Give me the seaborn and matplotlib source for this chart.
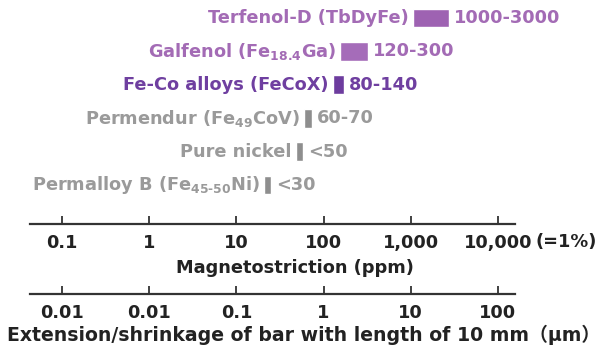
import numpy as np
import matplotlib
matplotlib.use('Agg')
import matplotlib.pyplot as plt
import matplotlib.transforms as mtransforms
from matplotlib.ticker import NullLocator
import seaborn as sns

# materials, top to bottom
materials = [r'Terfenol-D (TbDyFe)',
             r'Galfenol (Fe$_{\mathbf{18.4}}$Ga)',
             r'Fe-Co alloys (FeCoX)',
             r'Permendur (Fe$_{\mathbf{49}}$CoV)',
             r'Pure nickel',
             r'Permalloy B (Fe$_{\mathbf{45\text{-}50}}$Ni)']
range_labels = ['1000-3000', '120-300', '80-140', '60-70', '<50', '<30']
# bar extents as drawn in the picture (ppm)
bar_lo = [1050, 155, 127, 60, 48, 21]
bar_hi = [2750, 320, 170, 73, 58, 25]
text_colors = ['#a36bb5', '#a36bb5', '#6f3fa0', '#9a9a9a', '#9a9a9a', '#9a9a9a']
bar_colors = ['#9e62b2', '#a56cb9', '#6d3c9e', '#8e8e8e', '#8e8e8e', '#8e8e8e']

ppm_ticks = [0.1, 1, 10, 100, 1000, 10000]
ppm_labels = ['0.1', '1', '10', '100', '1,000', '10,000']
ext_labels = ['0.01', '0.01', '0.1', '1', '10', '100']

sns.set_theme(style='white')
plt.rcParams['font.family'] = ['DejaVu Sans', 'Noto Sans CJK JP']
plt.rcParams['font.weight'] = 'bold'
plt.rcParams['mathtext.default'] = 'bf'

FS = 12.8
W, H = 606, 350
fig = plt.figure(figsize=(W / 100, H / 100), dpi=100)
xlim = (10 ** -1.367, 10 ** 4.195)

ax = fig.add_axes([30 / W, (H - 224) / H, 485 / W, 224 / H])
ax.set_xscale('log')
widths = [h - l for l, h in zip(bar_lo, bar_hi)]
ypos = np.arange(len(materials))
ax.barh(ypos, widths, left=bar_lo, height=0.56, color=bar_colors)
ax.set_xlim(*xlim)
ax.set_ylim(6.168, -0.539)
ax.set_yticks([])

for i in range(len(materials)):
    ax.annotate(materials[i], xy=(bar_lo[i], i), xytext=(-4, 0), textcoords='offset pixels',
                ha='right', va='center', fontsize=FS, color=text_colors[i], fontweight='bold')
    ax.annotate(range_labels[i], xy=(bar_hi[i], i), xytext=(5, 0), textcoords='offset pixels',
                ha='left', va='center', fontsize=FS, color=text_colors[i], fontweight='bold')


def style_axis(a, labels):
    a.set_xscale('log')
    a.set_xlim(*xlim)
    a.set_xticks(ppm_ticks)
    a.set_xticklabels(labels)
    a.xaxis.set_minor_locator(NullLocator())
    a.patch.set_visible(False)
    for s in ['top', 'left', 'right']:
        a.spines[s].set_visible(False)
    a.spines['bottom'].set_color('#333333')
    a.spines['bottom'].set_linewidth(1.6)
    a.tick_params(axis='x', direction='in', length=5.5, width=1.3, color='#333333',
                  pad=7, labelsize=FS, labelcolor='#222222', bottom=True)
    for t in a.get_xticklabels():
        t.set_fontweight('bold')


style_axis(ax, ppm_labels)
trans = mtransforms.blended_transform_factory(ax.transData, ax.transAxes)
ax.annotate('(=1%)', xy=(10000, 0), xycoords=trans, xytext=(38, -18), textcoords='offset pixels',
            ha='left', va='center', fontsize=FS, fontweight='bold', color='#222222',
            annotation_clip=False)
ax.set_xlabel('Magnetostriction (ppm)', fontsize=FS, fontweight='bold', color='#222222')
ax.xaxis.set_label_coords(0.546, -0.155)

ax2 = fig.add_axes([30 / W, (H - 294) / H, 485 / W, 40 / H])
ax2.set_yticks([])
style_axis(ax2, ext_labels)

fig.text(304 / W, 1 - 335 / H, 'Extension/shrinkage of bar with length of 10 mm（μm）',
         ha='center', va='center', fontsize=13.6, fontweight='bold', color='#222222')

fig.savefig('out.png', dpi=100)
